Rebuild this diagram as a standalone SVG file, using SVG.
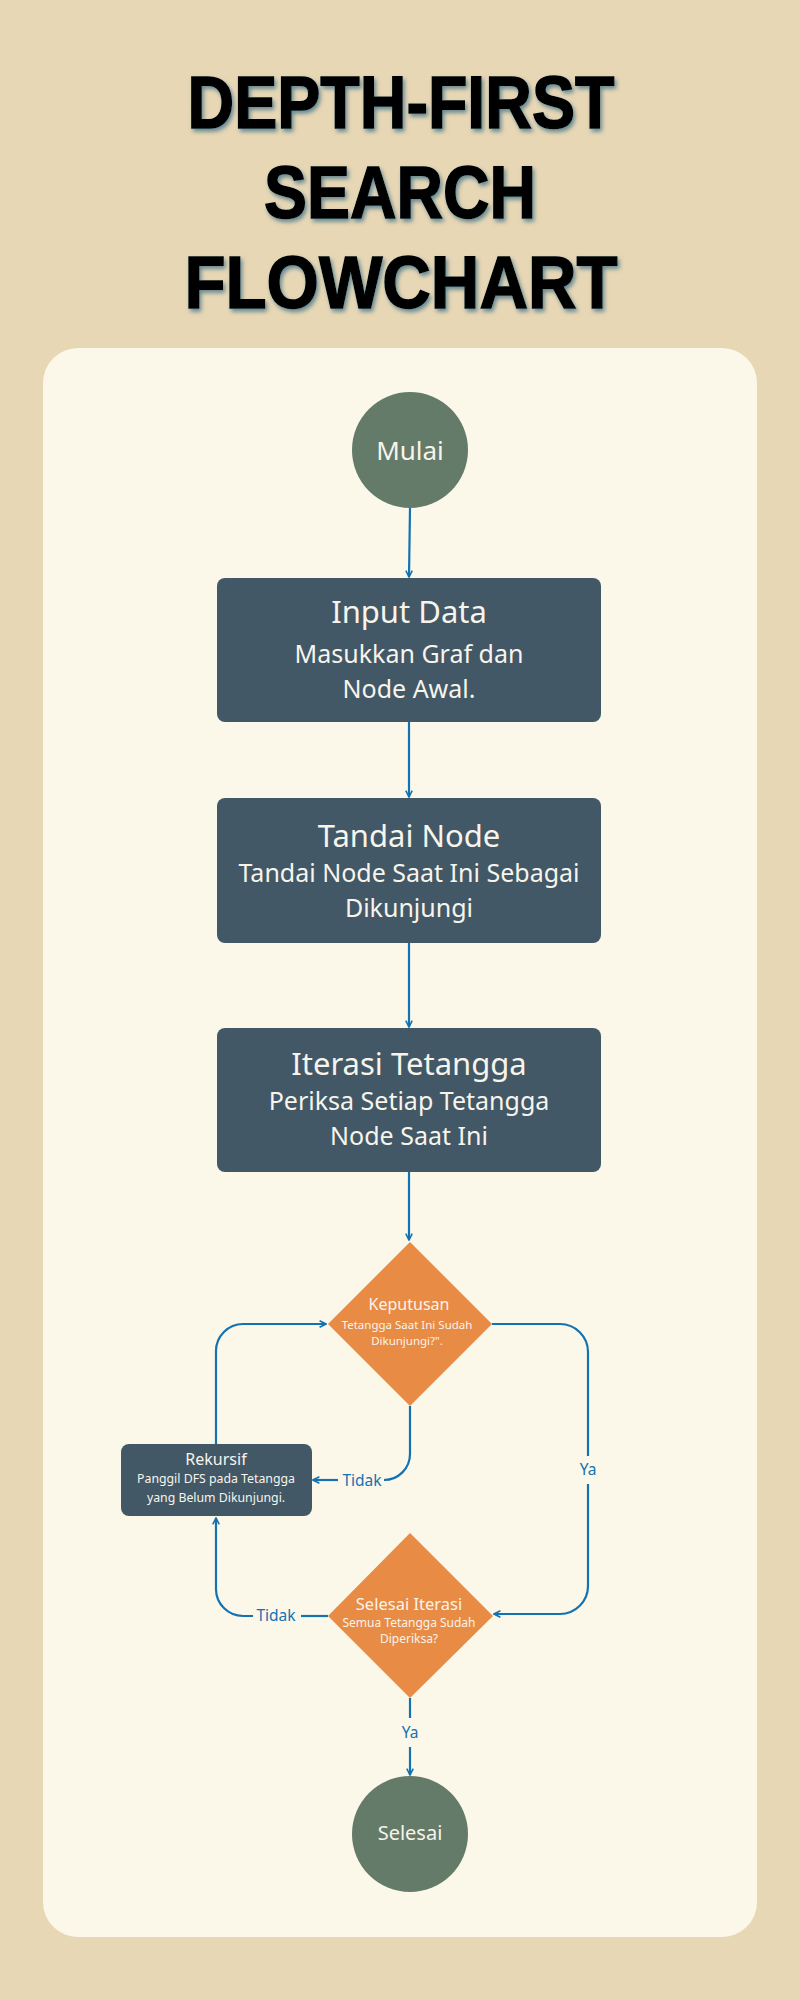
<svg xmlns="http://www.w3.org/2000/svg" width="800" height="2000" viewBox="0 0 800 2000">
  <defs>
    <style>
      .title { font-family: "Liberation Sans", Arial, sans-serif; font-weight: 700; font-size: 75px; fill: #000000; stroke: #000000; stroke-width: 1.5; text-anchor: middle; }
      .node-t { font-family: "Noto Sans", "Open Sans", sans-serif; fill: #F7F4EC; text-anchor: middle; }
      .circle { fill: #637B68; }
      .box { fill: #425866; }
      .dia { fill: #E88B45; }
      .conn { fill: none; stroke: #1272B2; stroke-width: 2.2; }
      .lbl { font-family: "Noto Sans", "Open Sans", sans-serif; font-size: 15.5px; fill: #1272B2; text-anchor: middle; }
    </style>
    <filter id="shadow" x="-10%" y="-20%" width="120%" height="150%">
      <feDropShadow dx="2" dy="3" stdDeviation="2" flood-color="#3D7186" flood-opacity="0.75"/>
    </filter>
    <marker id="arrow" viewBox="0 0 10 10" refX="9" refY="5" markerWidth="8" markerHeight="8" markerUnits="userSpaceOnUse" orient="auto">
      <path d="M1,1 L9,5 L1,9" fill="none" stroke="#1272B2" stroke-width="2"/>
    </marker>
  </defs>

  <rect x="0" y="0" width="800" height="2000" fill="#E8D7B5"/>
  <g id="title" filter="url(#shadow)">
    <text class="title" x="401" y="128" textLength="427" lengthAdjust="spacingAndGlyphs">DEPTH-FIRST</text>
    <text class="title" x="400" y="218" textLength="272" lengthAdjust="spacingAndGlyphs">SEARCH</text>
    <text class="title" x="401" y="308" textLength="433" lengthAdjust="spacingAndGlyphs">FLOWCHART</text>
  </g>
  <rect x="43" y="348" width="714" height="1589" rx="35" ry="35" fill="#FCF8E9"/>

  <g id="connectors">
    <path class="conn" d="M410,508 L409,577" marker-end="url(#arrow)"/>
    <path class="conn" d="M409,722 L409,797" marker-end="url(#arrow)"/>
    <path class="conn" d="M409,943 L409,1027" marker-end="url(#arrow)"/>
    <path class="conn" d="M409,1172 L409,1240" marker-end="url(#arrow)"/>
    <path class="conn" d="M410,1406 L410,1454 A26,26 0 0 1 384,1480"/>
    <path class="conn" d="M338,1480 L313,1480" marker-end="url(#arrow)"/>
    <text class="lbl" x="362" y="1486">Tidak</text>
    <path class="conn" d="M216,1444 L216,1351 A27,27 0 0 1 243,1324 L326,1324" marker-end="url(#arrow)"/>
    <path class="conn" d="M492,1324 L560,1324 A28,28 0 0 1 588,1352 L588,1456"/>
    <path class="conn" d="M588,1484 L588,1586 A28,28 0 0 1 560,1614 L494,1614" marker-end="url(#arrow)"/>
    <text class="lbl" x="588" y="1475">Ya</text>
    <path class="conn" d="M328,1616 L301,1616"/>
    <path class="conn" d="M253,1616 L243,1616 A27,27 0 0 1 216,1589 L216,1518" marker-end="url(#arrow)"/>
    <text class="lbl" x="276" y="1621">Tidak</text>
    <path class="conn" d="M410,1698 L410,1718"/>
    <path class="conn" d="M410,1747 L410,1775" marker-end="url(#arrow)"/>
    <text class="lbl" x="410" y="1738">Ya</text>
  </g>

  <g id="mulai">
    <circle class="circle" cx="410" cy="450" r="58"/>
    <text class="node-t" x="410" y="460" font-size="26">Mulai</text>
  </g>
  <g id="input-data">
    <rect class="box" x="217" y="578" width="384" height="144" rx="8"/>
    <text class="node-t" x="409" y="623" font-size="31">Input Data</text>
    <text class="node-t" x="409" y="663" font-size="25">Masukkan Graf dan</text>
    <text class="node-t" x="409" y="698" font-size="25">Node Awal.</text>
  </g>
  <g id="tandai-node">
    <rect class="box" x="217" y="798" width="384" height="145" rx="8"/>
    <text class="node-t" x="409" y="847" font-size="31">Tandai Node</text>
    <text class="node-t" x="409" y="882" font-size="25">Tandai Node Saat Ini Sebagai</text>
    <text class="node-t" x="409" y="917" font-size="25">Dikunjungi</text>
  </g>
  <g id="iterasi-tetangga">
    <rect class="box" x="217" y="1028" width="384" height="144" rx="8"/>
    <text class="node-t" x="409" y="1075" font-size="31">Iterasi Tetangga</text>
    <text class="node-t" x="409" y="1110" font-size="25">Periksa Setiap Tetangga</text>
    <text class="node-t" x="409" y="1145" font-size="25">Node Saat Ini</text>
  </g>
  <g id="keputusan">
    <polygon class="dia" points="410,1242 492,1324 410,1406 328,1324"/>
    <text class="node-t" x="409" y="1310" font-size="16">Keputusan</text>
    <text class="node-t" x="407" y="1329" font-size="11.5">Tetangga Saat Ini Sudah</text>
    <text class="node-t" x="407" y="1345" font-size="11.5">Dikunjungi?".</text>
  </g>
  <g id="rekursif">
    <rect class="box" x="121" y="1444" width="191" height="72" rx="8"/>
    <text class="node-t" x="216" y="1465" font-size="16">Rekursif</text>
    <text class="node-t" x="216" y="1483" font-size="12.3">Panggil DFS pada Tetangga</text>
    <text class="node-t" x="216" y="1502" font-size="12.3">yang Belum Dikunjungi.</text>
  </g>
  <g id="selesai-iterasi">
    <polygon class="dia" points="410,1533 493,1616 410,1698 328,1616"/>
    <text class="node-t" x="409" y="1610" font-size="16.5">Selesai Iterasi</text>
    <text class="node-t" x="409" y="1627" font-size="12">Semua Tetangga Sudah</text>
    <text class="node-t" x="409" y="1643" font-size="12">Diperiksa?</text>
  </g>
  <g id="selesai">
    <circle class="circle" cx="410" cy="1834" r="58"/>
    <text class="node-t" x="410" y="1840" font-size="20">Selesai</text>
  </g>
</svg>
